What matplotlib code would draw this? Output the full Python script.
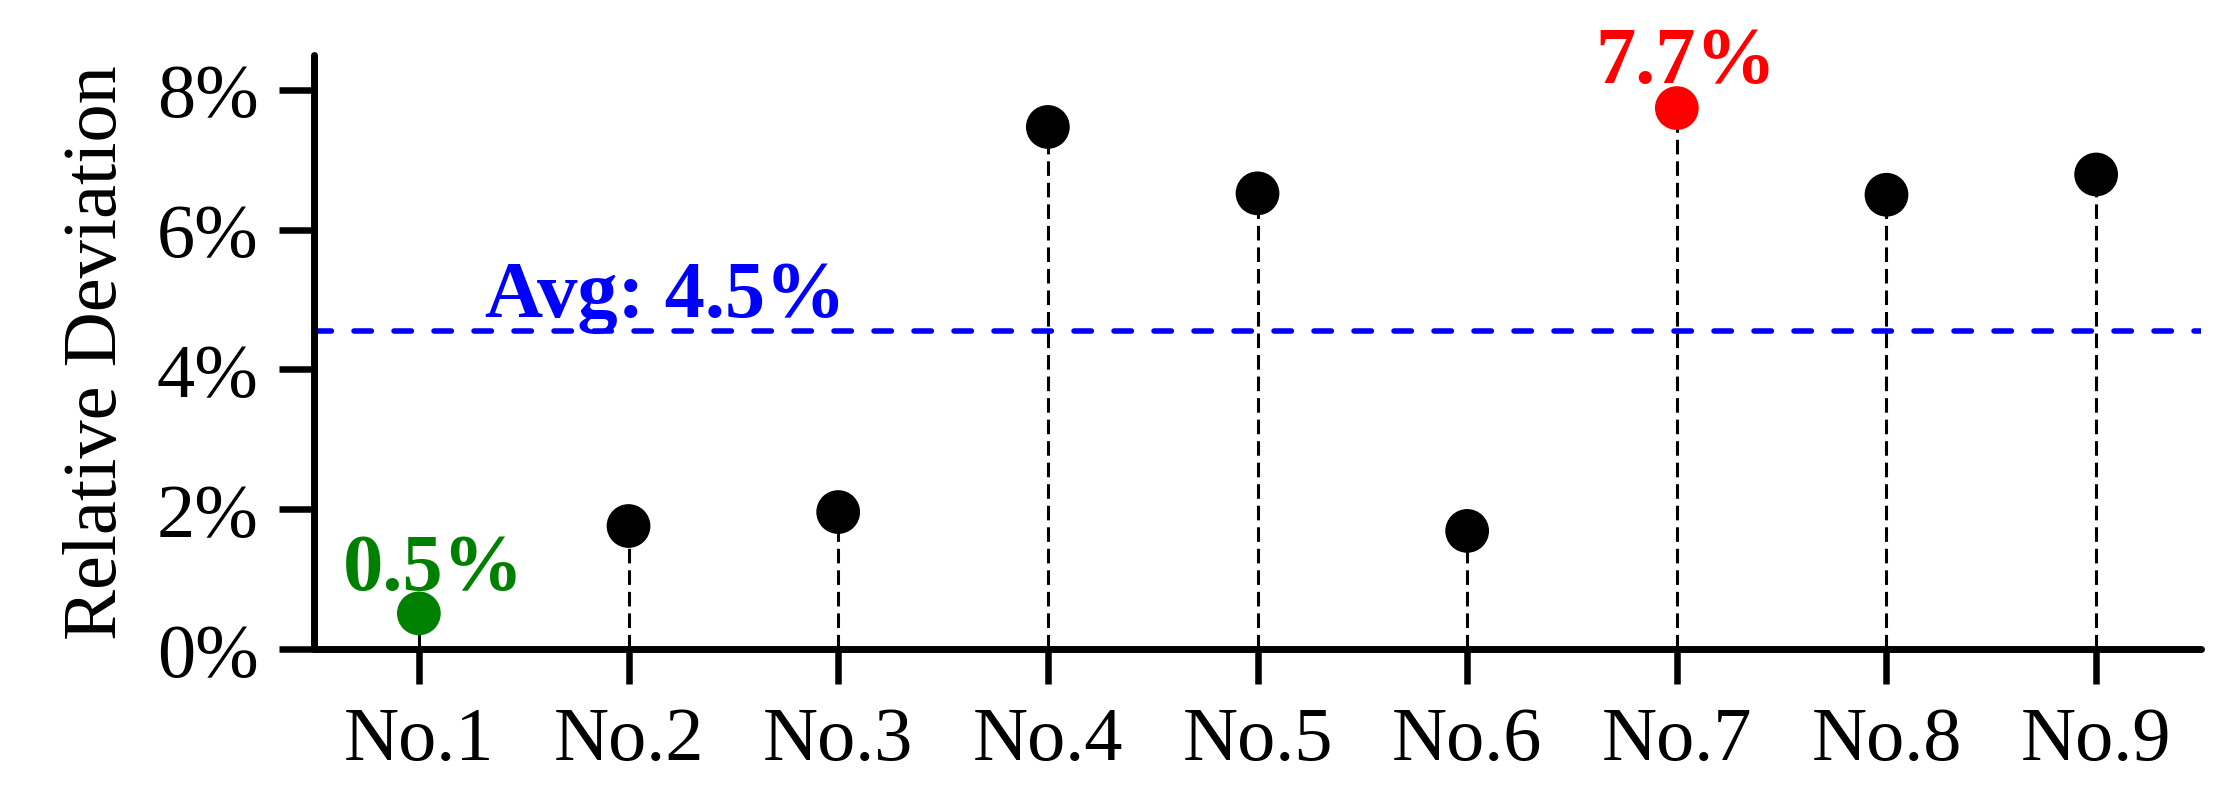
import numpy as np
import matplotlib
matplotlib.use("Agg")
import matplotlib.pyplot as plt
from matplotlib.ticker import FuncFormatter

plt.rcParams['font.family'] = ['Liberation Serif', 'DejaVu Serif']
plt.rcParams['lines.scale_dashes'] = False

categories = ["No.1", "No.2", "No.3", "No.4", "No.5", "No.6", "No.7", "No.8", "No.9"]
values = [0.51, 1.76, 1.96, 7.47, 6.52, 1.69, 7.74, 6.50, 6.79]
yticks = [0, 2, 4, 6, 8]
ylabel = "Relative Deviation"

x = np.arange(1, len(values) + 1)
vals = np.array(values)
avg = vals.mean()
imin, imax = int(vals.argmin()), int(vals.argmax())
colors = ["black"] * len(vals)
colors[imin] = "green"
colors[imax] = "red"

fig = plt.figure(figsize=(22.32, 8.03), dpi=100)
ax = fig.add_axes([0.1407, 0.1905, 0.8454, 0.7398])

ax.vlines(x, 0, vals, colors="black", linewidth=2.2, linestyles=(0, (10.5, 5)), zorder=2)
ax.scatter(x, vals, s=31.5 ** 2, c=colors, zorder=3, linewidths=0)
ax.axhline(avg, color="#0000FF", linewidth=4, linestyle=(0, (12.5, 16.3)),
           dash_capstyle="round", zorder=1)

ax.annotate(f"{vals[imin]:.1f}%", (x[imin], vals[imin]), xytext=(10.4, 17.3), textcoords="offset points",
            ha="center", va="baseline", color="green", fontsize=58, fontweight="bold")
ax.annotate(f"{vals[imax]:.1f}%", (x[imax], vals[imax]), xytext=(6.8, 18.5), textcoords="offset points",
            ha="center", va="baseline", color="red", fontsize=58, fontweight="bold")
ax.annotate(f"Avg: {avg:.1f}%", (1.315, avg), xytext=(0, 10.8), textcoords="offset points",
            ha="left", va="baseline", color="#0000FF", fontsize=58, fontweight="bold")

ax.set_xlim(0.5, 9.5)
ax.set_ylim(0, 8.5)
ax.set_xticks(x)
ax.set_xticklabels(categories)
ax.set_yticks(yticks)
ax.yaxis.set_major_formatter(FuncFormatter(lambda v, p: f"{v:.0f}%"))

for s in ["top", "right"]:
    ax.spines[s].set_visible(False)
for s in ["left", "bottom"]:
    ax.spines[s].set_linewidth(5)
    ax.spines[s].set_capstyle("round")

ax.tick_params(axis="both", which="major", length=25, width=4.7, labelsize=55, color="black")
ax.tick_params(axis="y", pad=15)
ax.tick_params(axis="x", pad=16)
ax.set_ylabel(ylabel, fontsize=55, labelpad=18)

fig.savefig("out.png", dpi=100)
